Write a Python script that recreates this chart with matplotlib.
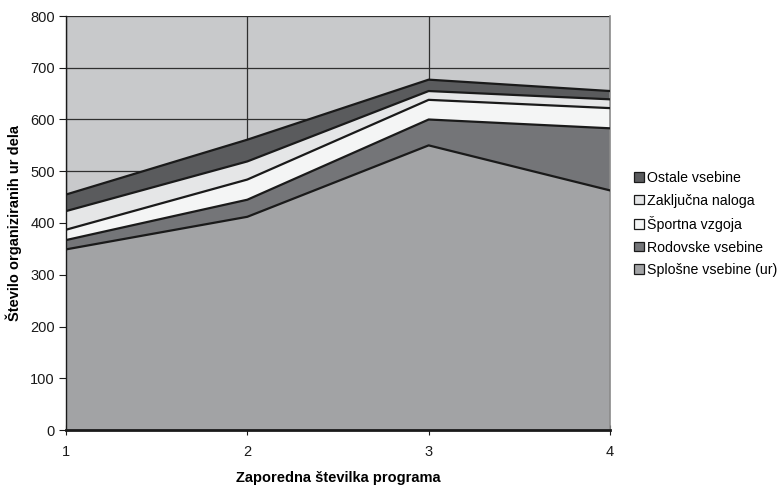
import matplotlib
matplotlib.use("Agg")
import matplotlib.pyplot as plt
from matplotlib.patches import Patch

plt.rcParams['font.family'] = ['Liberation Sans', 'DejaVu Sans']

programs = [1, 2, 3, 4]
splosne = [349, 412, 550, 463]
rodovske = [18, 33, 50, 120]
sportna = [20, 39, 38, 39]
zakljucna = [36, 35, 17, 17]
ostale = [32, 42, 22, 16]

series = [
    ("Splošne vsebine (ur)", splosne, "#a2a3a5"),
    ("Rodovske vsebine", rodovske, "#747578"),
    ("Športna vzgoja", sportna, "#f4f5f5"),
    ("Zaključna naloga", zakljucna, "#e5e6e7"),
    ("Ostale vsebine", ostale, "#5a5b5d"),
]

fig = plt.figure(figsize=(7.84, 4.86), dpi=100)
ax = fig.add_axes([66 / 784, 1 - 430 / 486, (610 - 66) / 784, (430 - 16) / 486])
ax.set_facecolor("#c8c9cb")

base = [0] * len(programs)
for name, vals, col in series:
    top = [b + v for b, v in zip(base, vals)]
    ax.fill_between(programs, base, top, facecolor=col, edgecolor="none", zorder=2)
    ax.plot(programs, top, color="#1a1a1a", lw=1.6, zorder=3)
    base = top

ax.set_xlim(1, 4)
ax.set_ylim(0, 800)
ax.set_yticks(range(0, 801, 100))
ax.set_xticks(programs)
ax.grid(True, color="#2f2f2f", lw=0.9, zorder=1)
ax.set_axisbelow(True)

ax.spines["top"].set_visible(False)
ax.spines["right"].set_color("#8a8a8a")
ax.spines["right"].set_linewidth(1.2)
ax.spines["left"].set_color("#1a1a1a")
ax.spines["bottom"].set_color("#1a1a1a")
ax.spines["bottom"].set_linewidth(2.0)
ax.spines["left"].set_linewidth(1.0)
ax.tick_params(axis="y", direction="out", length=5, labelsize=10.5, colors="#1a1a1a", pad=3)
ax.tick_params(axis="x", direction="inout", length=7, labelsize=10.5, colors="#1a1a1a", pad=7)

ax.set_ylabel("Število organiziranih ur dela", fontsize=10.5, fontweight="bold", labelpad=6)
ax.set_xlabel("Zaporedna številka programa", fontsize=10.5, fontweight="bold", labelpad=9)

handles = [Patch(facecolor=col, edgecolor="#1a1a1a", lw=0.9, label=name) for name, vals, col in series[::-1]]
fig.legend(handles=handles, loc="upper left", bbox_to_anchor=(634 / 784, 1 - 171 / 486),
           frameon=False, fontsize=10.2, handlelength=0.7, handleheight=0.7,
           handletextpad=0.2, labelspacing=0.6, borderaxespad=0, borderpad=0)

fig.savefig("out.png", dpi=100)
